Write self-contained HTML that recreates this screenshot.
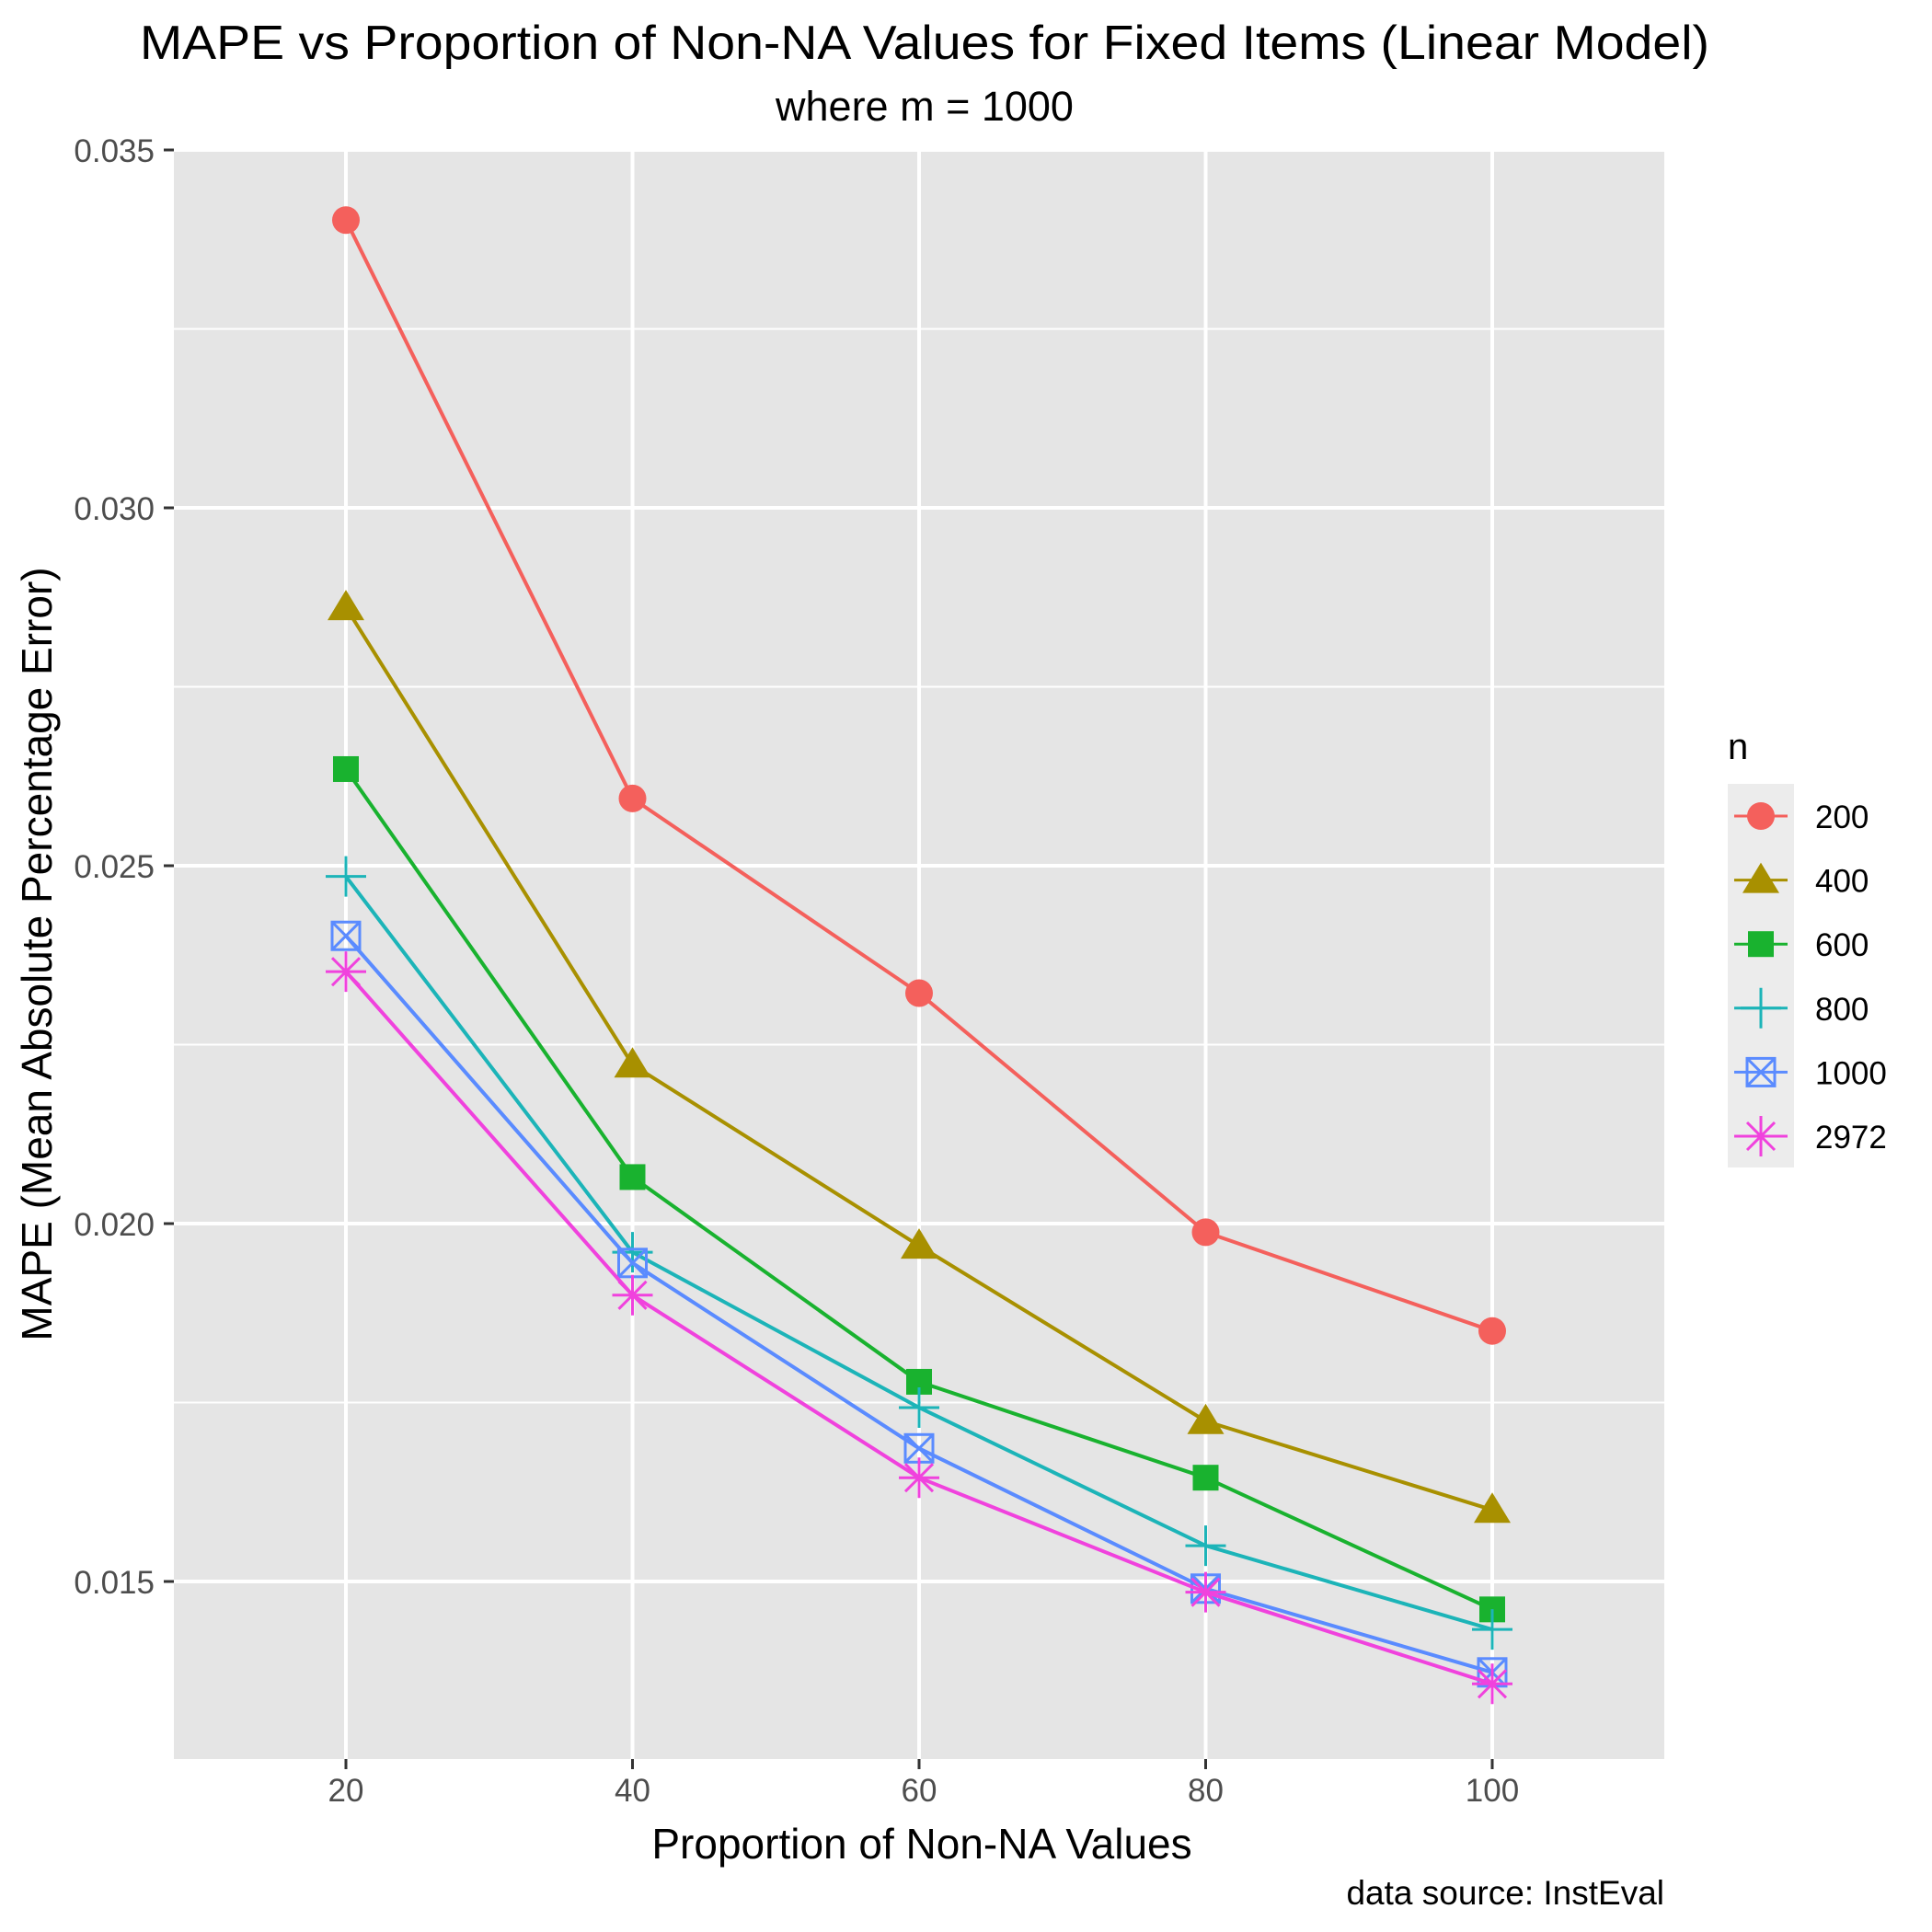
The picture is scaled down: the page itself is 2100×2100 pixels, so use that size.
<!DOCTYPE html>
<html><head><meta charset="utf-8"><style>body{margin:0;background:#fff}svg{display:block;font-family:"Liberation Sans",Arial,sans-serif}</style></head>
<body>
<svg id="chart" width="2100" height="2100" viewBox="0 0 2100 2100">
<rect width="2100" height="2100" fill="#fff"/>
<text x="1005" y="64" text-anchor="middle" font-size="52" textLength="1706" lengthAdjust="spacingAndGlyphs" fill="#000">MAPE vs Proportion of Non-NA Values for Fixed Items (Linear Model)</text>
<text x="1005" y="131" text-anchor="middle" font-size="45" fill="#000">where m = 1000</text>
<rect x="189" y="163" width="1620" height="1749" fill="#e5e5e5"/>
<g id="grid"></g>
<g id="axes"></g>
<g id="series"></g>
<text x="1002" y="2020" text-anchor="middle" font-size="46" fill="#000">Proportion of Non-NA Values</text>
<text transform="translate(56,1037) rotate(-90)" text-anchor="middle" font-size="46" fill="#000">MAPE (Mean Absolute Percentage Error)</text>
<text x="1809" y="2070" text-anchor="end" font-size="37" fill="#000">data source: InstEval</text>
<text x="1878" y="825" font-size="40" fill="#000">n</text>
<rect x="1878" y="852" width="72" height="417" fill="#ececec"/>
<g id="legend"></g>
</svg>
<script>
const xCats = [20, 40, 60, 80, 100];
const seriesNames = ["200", "400", "600", "800", "1000", "2972"];
const s200 = [0.03402, 0.02594, 0.02322, 0.01988, 0.01850];
const s400 = [0.02861, 0.02222, 0.01969, 0.01724, 0.01600];
const s600 = [0.02635, 0.02065, 0.01779, 0.01645, 0.01461];
const s800 = [0.02485, 0.01960, 0.01743, 0.01550, 0.01433];
const s1000 = [0.02402, 0.01945, 0.01686, 0.01490, 0.01373];
const s2972 = [0.02352, 0.01900, 0.01645, 0.01485, 0.01357];
const yTicks = [0.015, 0.020, 0.025, 0.030, 0.035];
const yTickLabels = ["0.015", "0.020", "0.025", "0.030", "0.035"];
const xTickLabels = ["20", "40", "60", "80", "100"];

const colors = ["#F4605C","#A89000","#19B22F","#1CB4B8","#5A8BFF","#F042DD"];
const shapes = ["circle","triangle","square","plus","boxx","star"];
const allSeries = [s200, s400, s600, s800, s1000, s2972];
const NS = "http://www.w3.org/2000/svg";
function X(v){ return 376 + (v-20)*(1622-376)/80; }
function Y(v){ return 163 + (0.035-v)*77800; }
function mk(tag, attrs, parent){ const e=document.createElementNS(NS,tag); for(const k in attrs) e.setAttribute(k,attrs[k]); parent.appendChild(e); return e; }

const grid=document.getElementById('grid'), axes=document.getElementById('axes'), ser=document.getElementById('series'), leg=document.getElementById('legend');
for(let i=0;i<yTicks.length-1;i++){ const v=(yTicks[i]+yTicks[i+1])/2;
  const l=mk('line',{x1:189,x2:1809,y1:Y(v),y2:Y(v),stroke:'#fff','stroke-width':2},grid);
    }
{ const v=yTicks[0]-0.0025; const l=mk('line',{x1:189,x2:1809,y1:Y(v),y2:Y(v),stroke:'#fff','stroke-width':2},grid);
    }
yTicks.forEach((v,i)=>{
  const l=mk('line',{x1:189,x2:1809,y1:Y(v),y2:Y(v),stroke:'#fff','stroke-width':4},grid);
   
  const t=mk('line',{x1:178,x2:189,y1:Y(v),y2:Y(v),stroke:'#333','stroke-width':3},axes);
   
  const tx=mk('text',{x:168,y:Y(v)+13,'text-anchor':'end','font-size':35,fill:'#4d4d4d'},axes);
  tx.textContent=yTickLabels[i];
   
});
xCats.forEach((v,i)=>{
  const l=mk('line',{x1:X(v),x2:X(v),y1:163,y2:1912,stroke:'#fff','stroke-width':4},grid);
   
  const t=mk('line',{x1:X(v),x2:X(v),y1:1912,y2:1923,stroke:'#333','stroke-width':3},axes);
   
  const tx=mk('text',{x:X(v),y:1958,'text-anchor':'middle','font-size':35,fill:'#4d4d4d'},axes);
  tx.textContent=xTickLabels[i];
   
});
function marker(shape,cx,cy,c,parent){
  const g=mk('g',{},parent);
  if(shape==='circle') mk('circle',{cx:cx,cy:cy,r:15,fill:c},g);
  else if(shape==='triangle') mk('polygon',{points:`${cx},${cy-19} ${cx+20},${cy+14} ${cx-20},${cy+14}`,fill:c},g);
  else if(shape==='square') mk('rect',{x:cx-14,y:cy-14,width:28,height:28,fill:c},g);
  else if(shape==='plus'){ mk('path',{d:`M${cx-22},${cy}H${cx+22}M${cx},${cy-22}V${cy+22}`,stroke:c,'stroke-width':3,fill:'none'},g); }
  else if(shape==='boxx'){ mk('rect',{x:cx-15,y:cy-15,width:30,height:30,stroke:c,'stroke-width':3,fill:'none'},g);
    mk('path',{d:`M${cx-15},${cy-15}L${cx+15},${cy+15}M${cx+15},${cy-15}L${cx-15},${cy+15}`,stroke:c,'stroke-width':3},g); }
  else { mk('path',{d:`M${cx-22},${cy}H${cx+22}M${cx},${cy-22}V${cy+22}M${cx-15},${cy-15}L${cx+15},${cy+15}M${cx+15},${cy-15}L${cx-15},${cy+15}`,stroke:c,'stroke-width':3},g); }
  return g;
}
allSeries.forEach((vals,si)=>{
  const c=colors[si];
  const p=mk('polyline',{points:vals.map((v,i)=>X(xCats[i])+','+Y(v)).join(' '),fill:'none',stroke:c,'stroke-width':4,'stroke-linejoin':'round'},ser);
  
  
  vals.forEach((v,i)=>{
    const m=marker(shapes[si],X(xCats[i]),Y(v),c,ser);
    
    
  });
  const ky=887+si*69.6;
  const lg=mk('g',{},leg);
  
  
  mk('line',{x1:1885,x2:1943,y1:ky,y2:ky,stroke:c,'stroke-width':3},lg);
  marker(shapes[si],1914,ky,c,lg);
  const t=mk('text',{x:1973,y:ky+13,'font-size':35,fill:'#000'},lg);
  t.textContent=seriesNames[si];
});
</script>
</body></html>
